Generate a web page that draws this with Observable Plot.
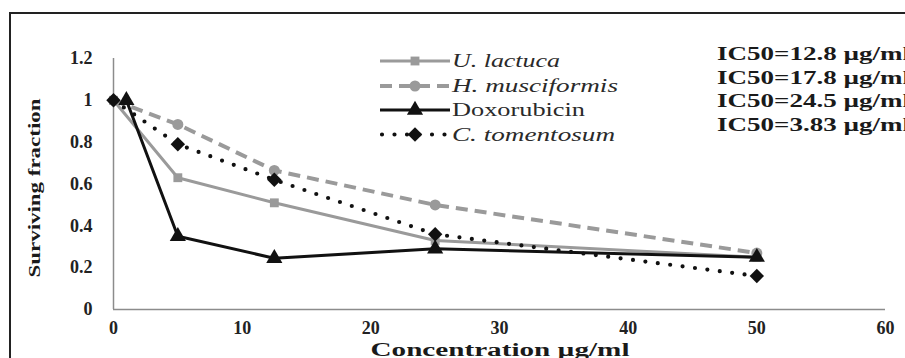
<!DOCTYPE html>
<html>
<head>
<meta charset="utf-8">
<script src="https://cdn.jsdelivr.net/npm/d3@7"></script>
<script src="https://cdn.jsdelivr.net/npm/@observablehq/plot@0.6"></script>
<style>
  html, body { margin: 0; padding: 0; background: white; }
  #wrap { position: relative; width: 905px; height: 358px; overflow: hidden; background: white; }
  #wrap svg { position: absolute; left: 0; top: 0; }
  #wrap svg, #wrap svg text { font-family: "Liberation Serif", "DejaVu Serif", serif; }
</style>
</head>
<body>
<div id="wrap"></div>
<script>
// ---- data ----
const concentrations = [0, 5, 12.5, 25, 50];
const doxConcentrations = [1, 5, 12.5, 25, 50];
const uLactuca = [1, 0.63, 0.51, 0.33, 0.25];
const hMusciformis = [1, 0.885, 0.665, 0.50, 0.27];
const doxorubicin = [1, 0.35, 0.245, 0.29, 0.25];
const cTomentosum = [1, 0.79, 0.62, 0.36, 0.16];
const seriesNames = ["U. lactuca", "H. musciformis", "Doxorubicin", "C. tomentosum"];
const ic50Labels = ["IC50=12.8 µg/ml", "IC50=17.8 µg/ml", "IC50=24.5 µg/ml", "IC50=3.83 µg/ml"];
const xTicks = [0, 10, 20, 30, 40, 50, 60];
const yTicks = [0, 0.2, 0.4, 0.6, 0.8, 1, 1.2];
const yTickLabels = ["0", "0.2", "0.4", "0.6", "0.8", "1", "1.2"];
const xTitle = "Concentration µg/ml";
const yTitle = "Surviving fraction";

// ---- styles per series ----
const styles = [
  {stroke: "#9a9a9a", width: 3, dash: null, cap: "butt", symbol: "square", r: 5},
  {stroke: "#9a9a9a", width: 4, dash: "12,7", cap: "butt", symbol: "circle", r: 5.5},
  {stroke: "#111", width: 3, dash: null, cap: "butt", symbol: "triangle", r: 6},
  {stroke: "#111", width: 4.2, dash: "0,12.5", cap: "round", symbol: "diamond2", r: 6.5}
];
const xsList = [concentrations, concentrations, doxConcentrations, concentrations];
const ysList = [uLactuca, hMusciformis, doxorubicin, cTomentosum];
const tables = ysList.map((ys, s) => ys.map((v, i) => ({x: xsList[s][i], y: v, series: seriesNames[s]})));

const marks = [
  Plot.ruleX([0], {stroke: "#8c8c8c", strokeWidth: 1.5}),
  Plot.ruleY([0], {stroke: "#8c8c8c", strokeWidth: 1.5}),
  Plot.axisX({ticks: xTicks, tickSize: 0, tickPadding: 12, label: null, fill: "#222"}),
  Plot.axisY({ticks: yTicks, tickSize: 0, tickPadding: 21, label: null, fill: "#222",
              tickFormat: (d) => yTickLabels[yTicks.indexOf(d)]})
];
tables.forEach((t, s) => {
  const st = styles[s];
  marks.push(Plot.line(t, {x: "x", y: "y", stroke: st.stroke, strokeWidth: st.width,
    strokeDasharray: st.dash, strokeLinecap: st.cap, strokeLinejoin: "round"}));
  marks.push(Plot.dot(t, {x: "x", y: "y", symbol: () => st.symbol, r: st.r, fill: st.stroke, stroke: "none"}));
});

const chart = Plot.plot({
  width: 905, height: 358,
  marginLeft: 113, marginRight: 20, marginTop: 58, marginBottom: 49,
  x: {type: "linear", domain: [0, 60]},
  y: {type: "linear", domain: [0, 1.2]},
  symbol: {type: "identity"},
  style: {fontFamily: "Liberation Serif, DejaVu Serif, serif", fontSize: "18px", fontWeight: "bold", background: "transparent", overflow: "visible"},
  marks
});
const wrap = document.getElementById("wrap");
wrap.appendChild(chart);

// ---- overlay: frame, legend, IC50 texts, axis titles ----
const ov = d3.select(wrap).append("svg").attr("width", 905).attr("height", 358);
ov.append("line").attr("x1", 10).attr("y1", 13).attr("x2", 905).attr("y2", 13).attr("stroke", "#222").attr("stroke-width", 2);
ov.append("line").attr("x1", 10).attr("y1", 12).attr("x2", 10).attr("y2", 358).attr("stroke", "#222").attr("stroke-width", 2);

const legendY = [61, 86, 110, 134.5];
const legendW = [108, 166, 133, 163];
const sym = {square: d3.symbolSquare, circle: d3.symbolCircle, triangle: d3.symbolTriangle, diamond2: d3.symbolDiamond2};
seriesNames.forEach((name, s) => {
  const st = styles[s];
  const g = ov.append("g").attr("transform", `translate(0,${legendY[s]})`);
  g.append("line").attr("x1", s === 3 ? 382 : 380).attr("x2", 450).attr("y1", 0).attr("y2", 0)
    .attr("stroke", st.stroke).attr("stroke-width", st.width)
    .attr("stroke-dasharray", st.dash).attr("stroke-linecap", st.cap);
  g.append("path").attr("transform", "translate(415,0)")
    .attr("d", d3.symbol(sym[st.symbol], Math.PI * st.r * st.r)())
    .attr("fill", st.stroke);
  g.append("text").attr("x", 452).attr("y", 0).attr("dy", "0.35em")
    .attr("font-size", 18).attr("font-style", s === 2 ? "normal" : "italic")
    .attr("fill", "#2a2a2a").attr("data-w", legendW[s]).text(name);
});

const icY = [54, 78, 101, 125];
ic50Labels.forEach((t, i) => {
  ov.append("text").attr("x", 717).attr("y", icY[i]).attr("dy", "0.35em")
    .attr("font-size", 18).attr("font-weight", "bold").attr("fill", "#1a1a1a")
    .attr("data-w", 193).text(t);
});

ov.append("text").attr("x", 500).attr("y", 356).attr("text-anchor", "middle")
  .attr("font-size", 18).attr("font-weight", "bold").attr("fill", "#1a1a1a")
  .attr("data-w", 259).text(xTitle);
ov.append("text").attr("transform", "translate(40,188) rotate(-90)").attr("text-anchor", "middle")
  .attr("font-size", 17).attr("font-weight", "bold").attr("fill", "#1a1a1a")
  .attr("data-w", 179).text(yTitle);

// stretch overlay texts to the widths they take in the reference
wrap.querySelectorAll("text[data-w]").forEach(el => {
  el.setAttribute("textLength", el.getAttribute("data-w"));
  el.setAttribute("lengthAdjust", "spacingAndGlyphs");
});
</script>
</body>
</html>
